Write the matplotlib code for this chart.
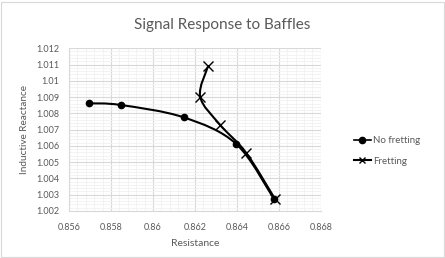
import numpy as np
import matplotlib
matplotlib.use("Agg")
import matplotlib.pyplot as plt
from matplotlib.path import Path
from matplotlib.patches import PathPatch

# values
no_fret_x = [0.85697, 0.85846, 0.86146, 0.86397, 0.86578]
no_fret_y = [1.00861, 1.00851, 1.00775, 1.00611, 1.00270]
fret_x = [0.86263, 0.86225, 0.86319, 0.86444, 0.86582]
fret_y = [1.01091, 1.00902, 1.00730, 1.00557, 1.00272]

x_ticks = [0.856, 0.858, 0.860, 0.862, 0.864, 0.866, 0.868]
x_labels = ["0.856", "0.858", "0.86", "0.862", "0.864", "0.866", "0.868"]
y_ticks = [1.002, 1.003, 1.004, 1.005, 1.006, 1.007, 1.008, 1.009, 1.010, 1.011, 1.012]
y_labels = ["1.002", "1.003", "1.004", "1.005", "1.006", "1.007", "1.008",
            "1.009", "1.01", "1.011", "1.012"]

plt.rcParams['font.family'] = ['Lato', 'DejaVu Sans']
grey = '#595959'


def smooth_path(ax, xs, ys, **kw):
    # Excel-style smoothed line: cubic bezier through the points
    pts = np.column_stack([xs, ys])
    disp = ax.transData.transform(pts)
    verts = [disp[0]]
    codes = [Path.MOVETO]
    n = len(disp)
    for i in range(n - 1):
        p0 = disp[i - 1] if i > 0 else disp[i]
        p1 = disp[i]
        p2 = disp[i + 1]
        p3 = disp[i + 2] if i + 2 < n else disp[i + 1]
        c1 = p1 + (p2 - p0) / 6.0
        c2 = p2 - (p3 - p1) / 6.0
        verts += [c1, c2, p2]
        codes += [Path.CURVE4] * 3
    path = Path(verts, codes)
    patch = PathPatch(path, fill=False, transform=None, **kw)
    ax.add_artist(patch)


fig = plt.figure(figsize=(4.45, 2.58), dpi=100)
ax = fig.add_axes([0.155, 0.183, 0.566, 0.630])

ax.set_xlim(0.856, 0.868)
ax.set_ylim(1.002, 1.012)
ax.set_xticks(x_ticks)
ax.set_xticklabels(x_labels)
ax.set_yticks(y_ticks)
ax.set_yticklabels(y_labels)
ax.set_xticks(np.arange(0.856, 0.8681, 0.0004), minor=True)
ax.set_yticks(np.arange(1.002, 1.0121, 0.0002), minor=True)
ax.grid(which='minor', color='#f1f1f1', linewidth=0.6)
ax.grid(which='major', color='#d9d9d9', linewidth=0.8)
ax.set_axisbelow(True)
ax.tick_params(which='both', length=0, labelsize=6.5, labelcolor=grey)
ax.tick_params(axis='x', pad=9)
ax.tick_params(axis='y', pad=7)
for s in ['top', 'right']:
    ax.spines[s].set_visible(False)
ax.spines['left'].set_color('#d9d9d9')
ax.spines['bottom'].set_color('#d9d9d9')

ax.set_xlabel('Resistance', fontsize=7.5, color=grey, labelpad=5)
ax.set_ylabel('Inductive Reactance', fontsize=7.2, color=grey, labelpad=5)
fig.suptitle('Signal Response to Baffles', fontsize=11, color=grey, y=0.93)

fig.canvas.draw()
smooth_path(ax, no_fret_x, no_fret_y, color='black', linewidth=1.5)
smooth_path(ax, fret_x, fret_y, color='black', linewidth=1.5)

l1, = ax.plot(no_fret_x, no_fret_y, linestyle='-', color='black', marker='o',
              markersize=4.5, linewidth=0, label='No fretting')
l2, = ax.plot(fret_x, fret_y, linestyle='-', color='black', marker='x',
              markersize=7, markeredgewidth=1.0, linewidth=0, label='Fretting')

h1, = ax.plot([], [], color='black', marker='o', markersize=4.5, linewidth=1.2)
h2, = ax.plot([], [], color='black', marker='x', markersize=5, linewidth=1.5)
fig.legend([h1, h2], ['No fretting', 'Fretting'], loc='center left',
           bbox_to_anchor=(0.775, 0.415), frameon=False, fontsize=7,
           labelcolor=grey, handlelength=1.8, handletextpad=0.2,
           labelspacing=1.2)

# chart border
fig.patches.append(plt.Rectangle((0.003, 0.004), 0.994, 0.99, transform=fig.transFigure,
                                 fill=False, edgecolor='#d9d9d9', linewidth=0.8))

fig.savefig('out.png', dpi=100)
